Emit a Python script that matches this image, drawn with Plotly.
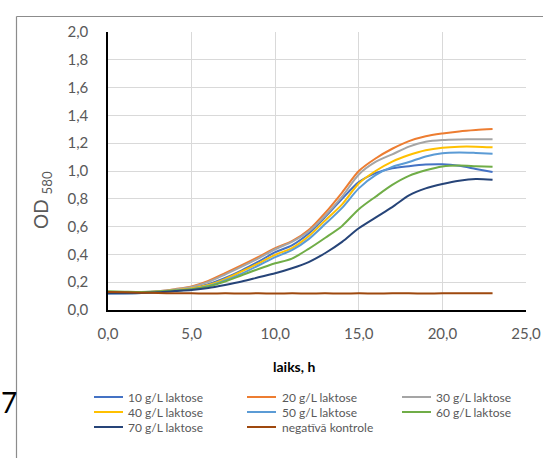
import plotly.graph_objects as go

# time, h
time_h = [0, 1, 2, 3, 4, 5, 6, 7, 8, 9, 10, 11, 12, 13, 14, 15, 16, 17, 18, 19, 20, 21, 22, 23]

od_10 = [0.120, 0.121, 0.124, 0.131, 0.143, 0.158, 0.185, 0.230, 0.285, 0.348, 0.416, 0.465, 0.550, 0.670, 0.800, 0.920, 0.985, 1.020, 1.035, 1.046, 1.048, 1.037, 1.015, 0.993]
od_20 = [0.125, 0.125, 0.127, 0.135, 0.150, 0.170, 0.210, 0.265, 0.322, 0.382, 0.445, 0.495, 0.575, 0.700, 0.845, 1.000, 1.090, 1.160, 1.215, 1.250, 1.270, 1.285, 1.295, 1.302]
od_30 = [0.125, 0.125, 0.127, 0.134, 0.147, 0.165, 0.202, 0.255, 0.312, 0.372, 0.437, 0.490, 0.565, 0.680, 0.815, 0.975, 1.065, 1.120, 1.175, 1.210, 1.223, 1.227, 1.228, 1.228]
od_40 = [0.125, 0.125, 0.126, 0.132, 0.142, 0.155, 0.180, 0.222, 0.278, 0.335, 0.397, 0.445, 0.530, 0.645, 0.760, 0.910, 1.000, 1.068, 1.115, 1.150, 1.168, 1.175, 1.175, 1.170]
od_50 = [0.118, 0.120, 0.123, 0.130, 0.140, 0.150, 0.172, 0.212, 0.262, 0.320, 0.380, 0.430, 0.510, 0.620, 0.735, 0.875, 0.970, 1.030, 1.065, 1.105, 1.128, 1.133, 1.130, 1.125]
od_60 = [0.135, 0.132, 0.130, 0.133, 0.140, 0.150, 0.170, 0.205, 0.250, 0.295, 0.336, 0.370, 0.440, 0.520, 0.605, 0.725, 0.815, 0.900, 0.965, 1.005, 1.033, 1.040, 1.035, 1.030]
od_70 = [0.120, 0.120, 0.123, 0.128, 0.136, 0.144, 0.158, 0.180, 0.205, 0.235, 0.264, 0.300, 0.345, 0.410, 0.490, 0.588, 0.665, 0.740, 0.825, 0.875, 0.906, 0.930, 0.942, 0.937]
od_ctrl = [0.130, 0.128, 0.125, 0.122, 0.120, 0.120, 0.118, 0.120, 0.119, 0.120, 0.118, 0.120, 0.119, 0.120, 0.118, 0.120, 0.119, 0.120, 0.120, 0.119, 0.120, 0.121, 0.120, 0.120]

series_names = ["10 g/L laktose", "20 g/L laktose", "30 g/L laktose", "40 g/L laktose",
                "50 g/L laktose", "60 g/L laktose", "70 g/L laktose", "negatīvā kontrole"]
series_values = [od_10, od_20, od_30, od_40, od_50, od_60, od_70, od_ctrl]
colors = ["#4472C4", "#ED7D31", "#A5A5A5", "#FFC000", "#5B9BD5", "#70AD47", "#264478", "#9E480E"]

W, H = 544, 459
L, R, T, B = 108, 18, 32, 149
pw, ph = W - L - R, H - T - B

def px_x(p):
    return (p - L) / pw

def px_y(p):
    return (H - B - p) / ph

fig = go.Figure()
for name, vals, col in zip(series_names, series_values, colors):
    fig.add_trace(go.Scatter(x=time_h, y=vals, name=name, mode="lines",
                             line=dict(color=col, width=2, shape="spline", smoothing=0.8)))

font_main = "Lato, 'Open Sans', sans-serif"

fig.update_layout(
    width=W, height=H,
    margin=dict(l=L, r=R, t=T, b=B, autoexpand=False),
    paper_bgcolor="white", plot_bgcolor="white",
    separators=", ",
    font=dict(family=font_main, color="#595959"),
    showlegend=False,
    xaxis=dict(range=[0, 25], dtick=5, tick0=0, tickformat=".1f",
               showgrid=True, gridcolor="#d9d9d9", gridwidth=1,
               showline=True, linecolor="black", linewidth=1.5,
               zeroline=False, ticks="", ticklabelstandoff=9,
               tickfont=dict(size=15, color="#595959"), fixedrange=True),
    yaxis=dict(range=[0, 2], dtick=0.2, tick0=0, tickformat=".1f",
               showgrid=True, gridcolor="#d9d9d9", gridwidth=1,
               showline=True, linecolor="black", linewidth=1.5,
               zeroline=False, ticks="", ticklabelstandoff=15,
               tickfont=dict(size=15, color="#595959"), fixedrange=True),
)

# chart-area border (left and top edges visible)
border_style = dict(color="#8c8c8c", width=1.2)
fig.add_shape(type="line", xref="paper", yref="paper",
              x0=px_x(16.5), x1=px_x(16.5), y0=px_y(16.5), y1=px_y(H - 1),
              line=border_style, layer="above")
fig.add_shape(type="line", xref="paper", yref="paper",
              x0=px_x(16.5), x1=px_x(W - 1), y0=px_y(16.5), y1=px_y(16.5),
              line=border_style, layer="above")

# legend (3 columns x 3 rows), drawn as samples + text
col_line_x = [94, 247, 402]
col_text_x = [126, 280, 434]
row_y = [397, 412, 427]
for i, (name, col) in enumerate(zip(series_names, colors)):
    r, c = divmod(i, 3)
    fig.add_shape(type="line", xref="paper", yref="paper",
                  x0=px_x(col_line_x[c]), x1=px_x(col_line_x[c] + 29),
                  y0=px_y(row_y[r]), y1=px_y(row_y[r]),
                  line=dict(color=col, width=2))
    fig.add_annotation(text=name, xref="paper", yref="paper",
                       x=px_x(col_text_x[c]), y=px_y(row_y[r]), showarrow=False,
                       xanchor="left", yanchor="middle",
                       font=dict(size=12, color="#595959", family=font_main))

# axis titles
fig.add_annotation(text="OD <sub>580</sub>", xref="paper", yref="paper",
                   x=px_x(42), y=px_y(200), textangle=-90, showarrow=False,
                   font=dict(size=19, color="#595959", family=font_main),
                   xanchor="center", yanchor="middle")
fig.add_annotation(text="<b>laiks, h</b>", xref="paper", yref="paper",
                   x=px_x(294), y=px_y(366), showarrow=False,
                   font=dict(size=14, color="black", family=font_main),
                   xanchor="center", yanchor="middle")
fig.add_annotation(text="7", xref="paper", yref="paper",
                   x=px_x(9), y=px_y(402), showarrow=False,
                   font=dict(size=28, color="black", family=font_main),
                   xanchor="center", yanchor="middle")

fig.write_html("out.html",
               config={"displayModeBar": False},
               post_script="document.body.style.margin='0px';document.body.style.overflow='hidden';")
